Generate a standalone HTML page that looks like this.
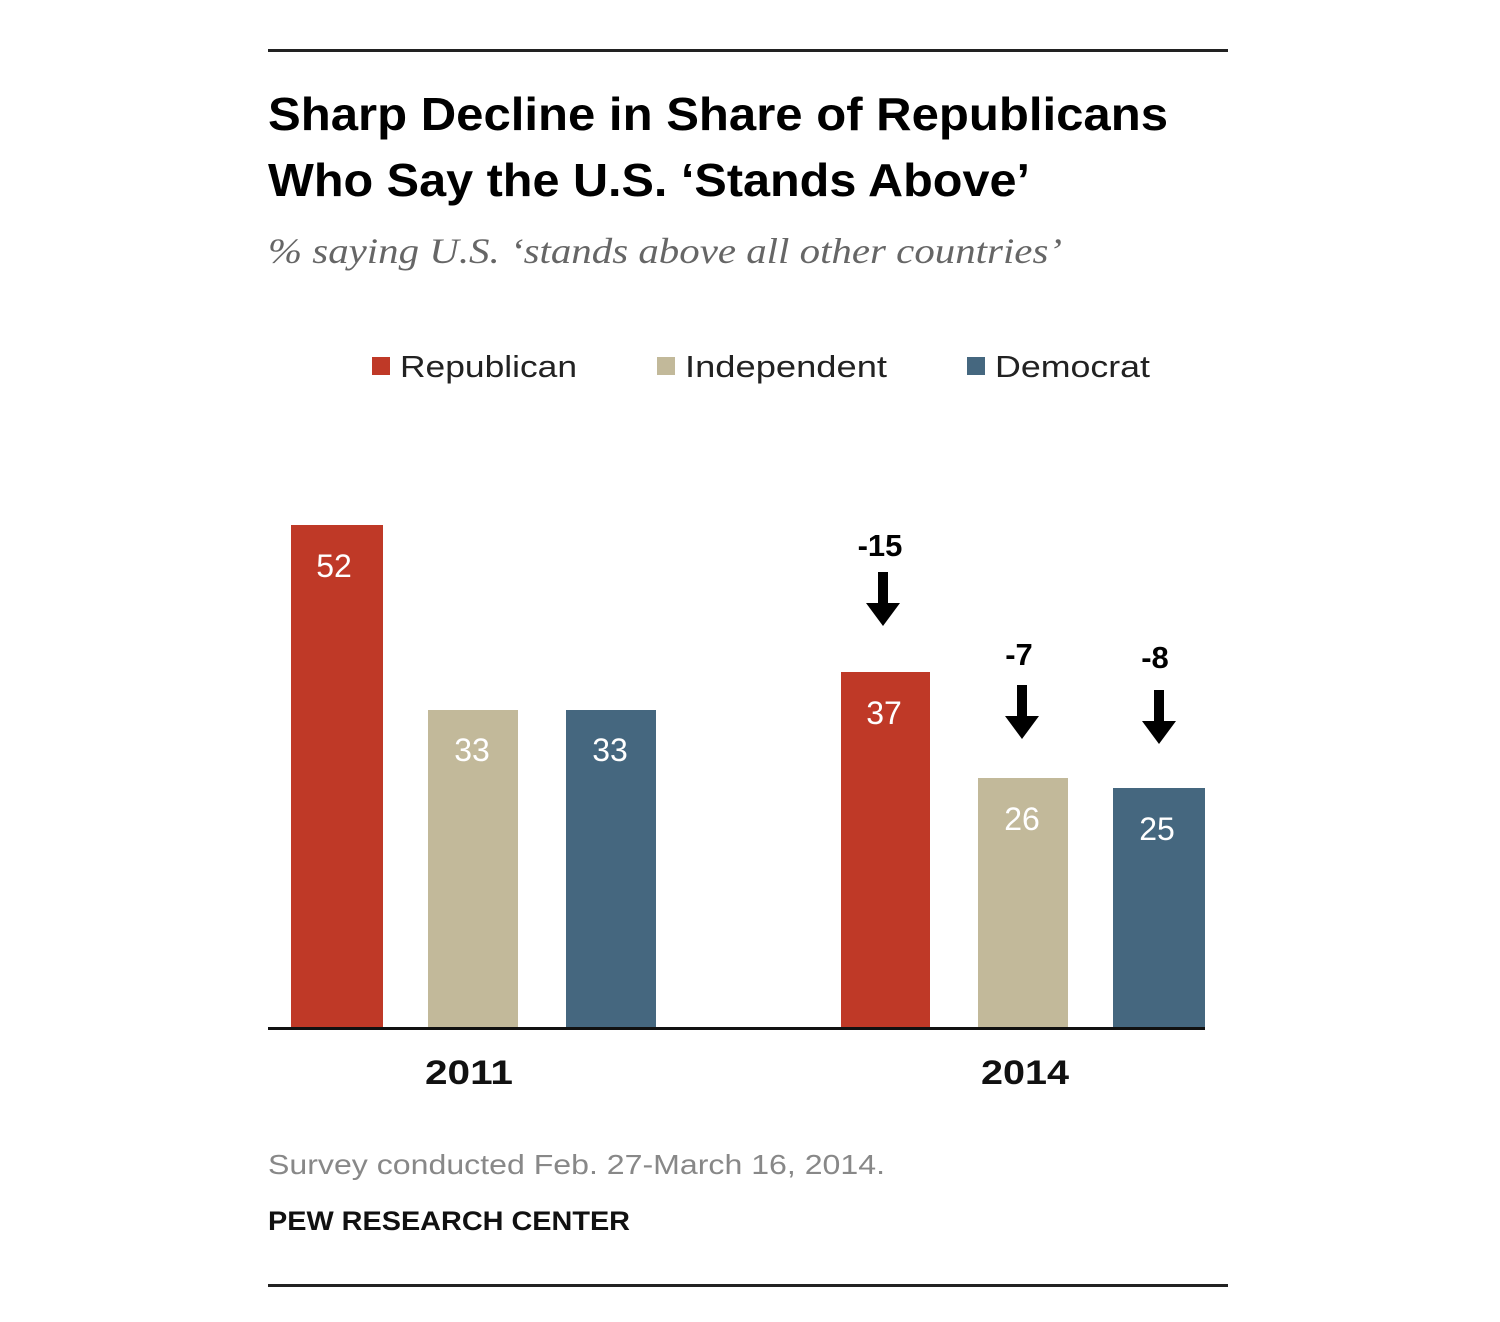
<!DOCTYPE html>
<html><head><meta charset="utf-8"><style>
html,body{margin:0;padding:0;background:#fff;}
svg{display:block;}
</style></head><body>
<svg width="1500" height="1322" viewBox="0 0 1500 1322" xmlns="http://www.w3.org/2000/svg">
<rect width="1500" height="1322" fill="#fff"/>
<rect x="268" y="49" width="960" height="3" fill="#222"/>
<rect x="268" y="1284" width="960" height="3" fill="#222"/>
<g font-family="Liberation Sans, sans-serif" font-weight="bold" font-size="46" fill="#000">
<text x="268" y="130" textLength="900" lengthAdjust="spacingAndGlyphs">Sharp Decline in Share of Republicans</text>
<text x="268" y="196" textLength="762" lengthAdjust="spacingAndGlyphs">Who Say the U.S. ‘Stands Above’</text>
</g>
<text x="268" y="263" font-family="Liberation Serif, serif" font-style="italic" font-size="36" fill="#666" textLength="794" lengthAdjust="spacingAndGlyphs">% saying U.S. ‘stands above all other countries’</text>
<g font-family="Liberation Sans, sans-serif" font-size="31" fill="#222">
<rect x="372" y="357" width="18" height="18" fill="#bf3927"/><text x="400" y="377" textLength="177" lengthAdjust="spacingAndGlyphs">Republican</text>
<rect x="657" y="357" width="18" height="18" fill="#c2b99a"/><text x="685" y="377" textLength="202" lengthAdjust="spacingAndGlyphs">Independent</text>
<rect x="967" y="357" width="18" height="18" fill="#45677f"/><text x="995" y="377" textLength="155" lengthAdjust="spacingAndGlyphs">Democrat</text>
</g>
<rect x="291" y="525" width="92" height="504" fill="#bf3927"/>
<rect x="428" y="710" width="90" height="319" fill="#c2b99a"/>
<rect x="566" y="710" width="90" height="319" fill="#45677f"/>
<rect x="841" y="672" width="89" height="357" fill="#bf3927"/>
<rect x="978" y="778" width="90" height="251" fill="#c2b99a"/>
<rect x="1113" y="788" width="92" height="241" fill="#45677f"/>
<rect x="268" y="1027" width="937" height="3" fill="#111"/>
<g font-family="Liberation Sans, sans-serif" font-size="32" fill="#fff" text-anchor="middle">
<text x="334" y="577">52</text>
<text x="472" y="761">33</text>
<text x="610" y="761">33</text>
<text x="884" y="724">37</text>
<text x="1022" y="830">26</text>
<text x="1157" y="840">25</text>
</g>
<g font-family="Liberation Sans, sans-serif" font-weight="bold" font-size="31" fill="#000" text-anchor="middle">
<text x="880" y="556">-15</text>
<text x="1019" y="665">-7</text>
<text x="1155" y="668">-8</text>
</g>
<g fill="#000">
<rect x="878" y="572" width="10" height="34"/><polygon points="866,603 900,603 883,626"/>
<rect x="1017" y="685" width="10" height="34"/><polygon points="1005,716 1039,716 1022,739"/>
<rect x="1154" y="690" width="10" height="34"/><polygon points="1142,721 1176,721 1159,744"/>
</g>
<g font-family="Liberation Sans, sans-serif" font-weight="bold" font-size="34" fill="#111" text-anchor="middle">
<text x="469" y="1084" textLength="88" lengthAdjust="spacingAndGlyphs">2011</text>
<text x="1025" y="1084" textLength="88" lengthAdjust="spacingAndGlyphs">2014</text>
</g>
<text x="268" y="1174" font-family="Liberation Sans, sans-serif" font-size="28" fill="#888" textLength="617" lengthAdjust="spacingAndGlyphs">Survey conducted Feb. 27-March 16, 2014.</text>
<text x="268" y="1230" font-family="Liberation Sans, sans-serif" font-weight="bold" font-size="27" fill="#111" textLength="362" lengthAdjust="spacingAndGlyphs">PEW RESEARCH CENTER</text>
</svg>
</body></html>
